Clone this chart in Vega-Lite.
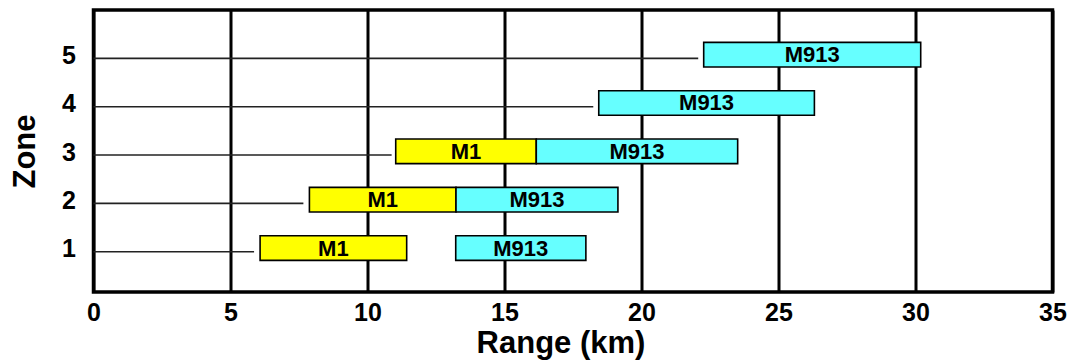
{
  "$schema": "https://vega.github.io/schema/vega-lite/v6.json",
  "width": 959,
  "height": 282,
  "autosize": {"type": "none"},
  "padding": {"left": 93.5, "top": 10, "right": 15.5, "bottom": 68},
  "background": "white",
  "config": {
    "font": "Liberation Sans",
    "view": {"stroke": "black", "strokeWidth": 3.5},
    "axis": {
      "labelFont": "Liberation Sans",
      "titleFont": "Liberation Sans",
      "labelFontWeight": "bold",
      "titleFontWeight": "bold",
      "labelColor": "black",
      "titleColor": "black",
      "labelFontSize": 25,
      "titleFontSize": 31,
      "ticks": false,
      "domain": false,
      "labelFlush": false
    }
  },
  "datasets": {
    "bars": [
      {"zone": 1, "weapon": "M1", "start": 6.08, "end": 11.43},
      {"zone": 1, "weapon": "M913", "start": 13.22, "end": 17.97},
      {"zone": 2, "weapon": "M1", "start": 7.88, "end": 13.23},
      {"zone": 2, "weapon": "M913", "start": 13.23, "end": 19.14},
      {"zone": 3, "weapon": "M1", "start": 11.03, "end": 16.16},
      {"zone": 3, "weapon": "M913", "start": 16.16, "end": 23.51},
      {"zone": 4, "weapon": "M913", "start": 18.44, "end": 26.31},
      {"zone": 5, "weapon": "M913", "start": 22.27, "end": 30.19}
    ],
    "leads": [
      {"zone": 1, "from": 0, "to": 5.86},
      {"zone": 2, "from": 0, "to": 7.66},
      {"zone": 3, "from": 0, "to": 10.88},
      {"zone": 4, "from": 0, "to": 18.24},
      {"zone": 5, "from": 0, "to": 22.07}
    ]
  },
  "layer": [
    {
      "data": {"name": "leads"},
      "mark": {"type": "rule", "color": "#222222", "strokeWidth": 1.6},
      "encoding": {
        "x": {
          "field": "from",
          "type": "quantitative",
          "scale": {"domain": [0, 35], "nice": false, "zero": false, "padding": 0},
          "axis": {
            "values": [0, 5, 10, 15, 20, 25, 30, 35],
            "grid": true,
            "gridColor": "black",
            "gridWidth": 3,
            "gridOpacity": 1,
            "labelPadding": 8,
            "title": "Range (km)",
            "titleX": 467,
            "titlePadding": 3
          }
        },
        "x2": {"field": "to"},
        "y": {
          "field": "zone",
          "type": "quantitative",
          "scale": {"domain": [0.167, 6], "nice": false, "zero": false, "padding": 0},
          "axis": {
            "values": [1, 2, 3, 4, 5],
            "grid": false,
            "labelPadding": 18,
            "labelOffset": -3,
            "title": "Zone",
            "titlePadding": 20
          }
        }
      }
    },
    {
      "data": {"name": "bars"},
      "mark": {"type": "bar", "height": 24.6, "yOffset": -3.7, "stroke": "black", "strokeWidth": 1.6, "opacity": 1},
      "encoding": {
        "x": {"field": "start", "type": "quantitative"},
        "x2": {"field": "end"},
        "y": {"field": "zone", "type": "quantitative"},
        "fill": {
          "field": "weapon",
          "type": "nominal",
          "scale": {"domain": ["M1", "M913"], "range": ["#FFFF00", "#66FFFF"]},
          "legend": null
        }
      }
    },
    {
      "data": {"name": "bars"},
      "transform": [{"fold": ["start", "end"], "as": ["edge", "km"]}],
      "mark": {"type": "text", "font": "Liberation Sans", "fontWeight": "bold", "fontSize": 22, "color": "black", "align": "center", "baseline": "middle", "yOffset": -3.2},
      "encoding": {
        "x": {"field": "km", "type": "quantitative", "aggregate": "mean"},
        "y": {"field": "zone", "type": "quantitative"},
        "text": {"field": "weapon", "type": "nominal"}
      }
    }
  ]
}
